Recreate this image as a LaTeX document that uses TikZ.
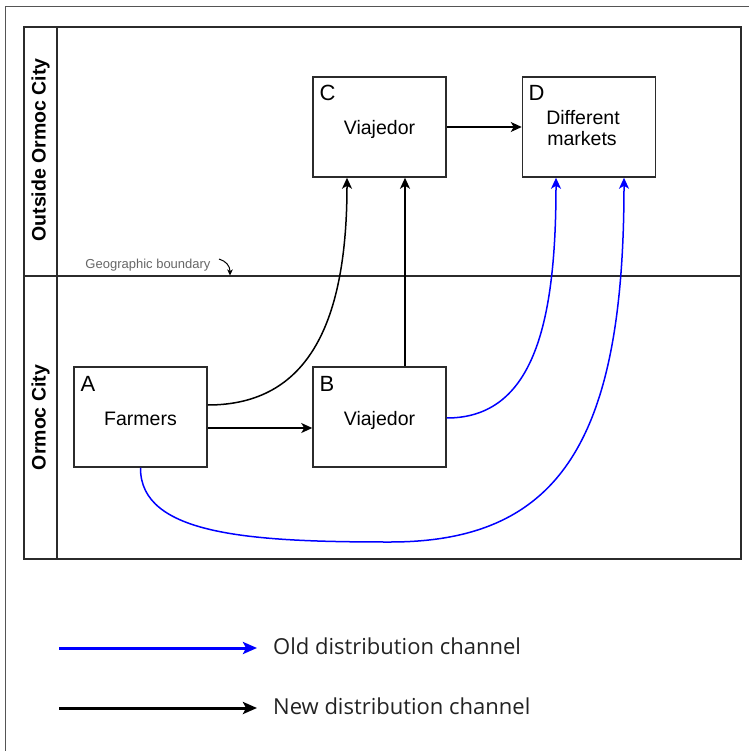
\documentclass[tikz,border=0pt]{standalone}
\usepackage{fontspec}
\setmainfont{Liberation Sans}
\newfontfamily\legendfont{Open Sans}
\usetikzlibrary{arrows.meta}
\definecolor{boxgray}{HTML}{2B2B2B}
\definecolor{framegray}{HTML}{555555}
\definecolor{notegray}{HTML}{666666}
\definecolor{legtext}{HTML}{222222}
\definecolor{chanblue}{HTML}{0000FF}
\begin{document}
\begin{tikzpicture}[x=1pt,y=-1pt,
  boxst/.style={draw=boxgray, line width=1.5pt, minimum width=133pt, minimum height=100pt, inner sep=0pt},
  letterst/.style={anchor=base west, inner sep=0pt, font=\fontsize{22}{26}\selectfont},
  txtst/.style={anchor=base, inner sep=0pt, font=\fontsize{19.5}{23}\selectfont},
  lanest/.style={rotate=90, inner sep=0pt, font=\bfseries\fontsize{19.5}{23}\selectfont},
  newch/.style={draw=black, line width=1.5pt, -{Stealth[length=11pt,width=10pt,inset=3pt]}},
  oldch/.style={draw=chanblue, line width=1.5pt, -{Stealth[length=11pt,width=10pt,inset=3pt]}},
  legline/.style={line width=3pt, -{Stealth[length=14pt,width=12pt,inset=3pt]}},
  legtxt/.style={anchor=west, inner sep=0pt, text=legtext, font=\legendfont\fontsize{22}{26}\selectfont}
]
\useasboundingbox (0,0) rectangle (749,751);
% outer frame (partially visible)
\draw[framegray, line width=1pt] (5,751) -- (5,7) -- (749,7);
% pool frame
\draw[boxgray, line width=1.5pt] (24,27) rectangle (741,559);
\draw[boxgray, line width=1.5pt] (57,27) -- (57,559);
\draw[boxgray, line width=1.5pt] (24,276) -- (741,276);
% lane labels
\node[lanest] (laneout) at (40.5,150) {Outside Ormoc City};
\node[lanest] (lanein) at (40.5,417.5) {Ormoc City};
% boundary note
\node[anchor=base, inner sep=0pt, text=notegray, font=\fontsize{13}{15}\selectfont] (geo) at (148,268) {Geographic boundary};
\coordinate (geoS) at (219,259);
\coordinate (geoE) at (230,275.5);
\draw[black, line width=1pt, -{Stealth[length=6pt,width=5.5pt,inset=1.5pt]}] (geoS) .. controls (226,261) and (230,266) .. (geoE);
% boxes
\node[boxst] (A) at (140.5,417) {};
\node[boxst] (B) at (379.5,417) {};
\node[boxst] (C) at (379.5,127) {};
\node[boxst] (D) at (589,127) {};
% letters
\node[letterst] (LA) at (80.5,391) {A};
\node[letterst] (LB) at (319.5,391) {B};
\node[letterst] (LC) at (319.5,101) {C};
\node[letterst] (LD) at (528.5,101) {D};
% texts
\node[txtst] (tA) at (140.5,425) {Farmers};
\node[txtst] (tB) at (379.5,425) {Viajedor};
\node[txtst] (tC) at (379.5,135) {Viajedor};
\node[txtst] (tD1) at (583,124.3) {Different};
\node[txtst] (tD2) at (582,146) {markets};
% new channel connectors
\draw[newch] ([yshift=-11pt]A.east) -- ([yshift=-11pt]B.west);
\draw[newch] ([yshift=12pt]A.east) .. controls (310,405) and (347,320) .. ([xshift=-32.5pt]C.south);
\draw[newch] ([xshift=25.5pt]B.north) -- ([xshift=25.5pt]C.south);
\draw[newch] (C.east) -- (D.west);
% old channel connectors
\draw[oldch] ([yshift=-1pt]B.east) .. controls (535,418) and (556,320) .. ([xshift=-33pt]D.south);
\draw[oldch] (A.south) .. controls (140,535) and (250,542) .. (390,542) .. controls (560,542) and (624,440) .. ([xshift=35pt]D.south);
% legend
\coordinate (lo1) at (59,648);
\coordinate (lo2) at (257,648);
\coordinate (ln1) at (59,708);
\coordinate (ln2) at (257,708);
\draw[legline, chanblue] (lo1) -- (lo2);
\draw[legline, black] (ln1) -- (ln2);
\node[legtxt] (lold) at (273,646) {Old distribution channel};
\node[legtxt] (lnew) at (273,706) {New distribution channel};
\end{tikzpicture}
\end{document}
